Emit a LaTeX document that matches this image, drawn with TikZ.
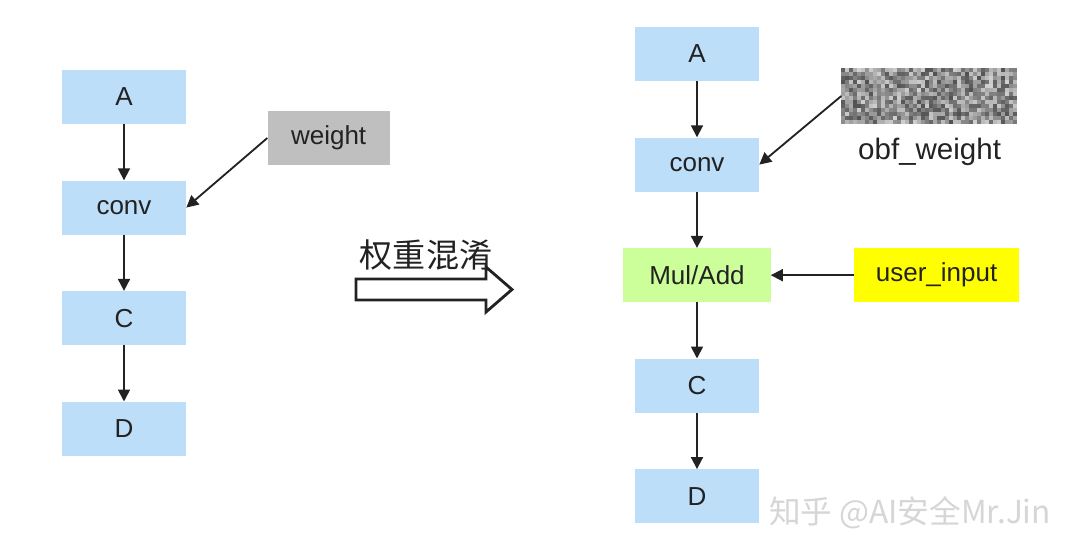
\documentclass[tikz,border=0pt]{standalone}
\usepackage{fontspec}
\setmainfont{Liberation Sans}
\newfontfamily\cjk{Noto Sans CJK SC}
\usetikzlibrary{arrows.meta,positioning,calc}

\definecolor{boxblue}{RGB}{189,222,249}
\definecolor{boxgreen}{RGB}{204,255,153}
\definecolor{boxyellow}{RGB}{255,255,0}
\definecolor{boxgray}{RGB}{191,191,191}
\definecolor{inkgray}{RGB}{34,34,34}

\begin{document}
\begin{tikzpicture}[x=0.025cm, y=-0.025cm, node distance=1.4cm]
    \tikzstyle{block} = [rectangle, fill=boxblue, minimum width=3.1cm, minimum height=1.35cm, text=inkgray, font=\fontsize{18.5}{21}\selectfont, inner sep=0pt]
    \tikzstyle{arrow} = [line width=1.3pt, draw=inkgray, -{Triangle[length=8.5pt,width=8.5pt]}]

    \useasboundingbox [fill=white] (0,0) rectangle (1080,553);

    % Original graph
    \node [block] (a) at (124,97) {A};
    \node [block, below=of a] (conv) {conv};
    \node [block, below=of conv] (c) {C};
    \node [block, below=of c] (d) {D};
    \node [block, fill=boxgray, minimum width=3.05cm, above right=0.375cm and 2.025cm of conv] (weight) {weight};

    % Obfuscated graph
    \node [block] (a2) at (697,54) {A};
    \node [block, below=of a2] (conv2) {conv};
    \node [block, below=of conv2, fill=boxgreen, minimum width=3.675cm] (muladd) {Mul/Add};
    \node [block, below=of muladd] (c2) {C};
    \node [block, below=of c2] (d2) {D};
    \node [block, fill=boxyellow, minimum width=4.125cm, right=2.075cm of muladd] (userin) {user\_input};

    % Noise weight
    \node [rectangle, minimum width=4.4cm, minimum height=1.4cm, inner sep=0pt, above right=0.325cm and 2.05cm of conv2] (noise) {};
    \pgfmathsetseed{4217}
    \foreach \i in {0,...,43} {
        \foreach \j in {0,...,13} {
            \pgfmathsetmacro{\shade}{18+50*rnd}
            \fill [black!\shade] ($(noise.north west)+(\i*0.1cm,-\j*0.1cm)$) rectangle ++(0.1cm,-0.1cm);
        }
    }
    \node [below=0.35cm of noise, inner sep=0pt, text=inkgray, font=\fontsize{21}{24}\selectfont] (obf) {obf\_weight};

    % Transformation arrow
    \node [text=inkgray, font=\cjk\fontsize{23.5}{26}\selectfont] (obfus) at (426,255) {权重混淆};
    \draw [line width=2pt, draw=inkgray, line join=miter] (356,279) -- (486,279) -- (486,267) -- (512,289.5) -- (486,312) -- (486,300) -- (356,300) -- cycle;

    % Connections
    \draw [arrow] (a) -- (conv);
    \draw [arrow] (conv) -- (c);
    \draw [arrow] (c) -- (d);
    \draw [arrow] (weight.west) -- (conv.east);

    \draw [arrow] (a2) -- (conv2);
    \draw [arrow] (conv2) -- (muladd);
    \draw [arrow] (muladd) -- (c2);
    \draw [arrow] (c2) -- (d2);
    \draw [arrow] (userin) -- (muladd);
    \draw [arrow] (noise.west) -- (conv2.east);

    % Watermark
    \node [text=gray!32, font=\cjk\fontsize{22.5}{25}\selectfont] (mark) at (910,513) {知乎 @AI安全Mr.Jin};
\end{tikzpicture}
\end{document}
